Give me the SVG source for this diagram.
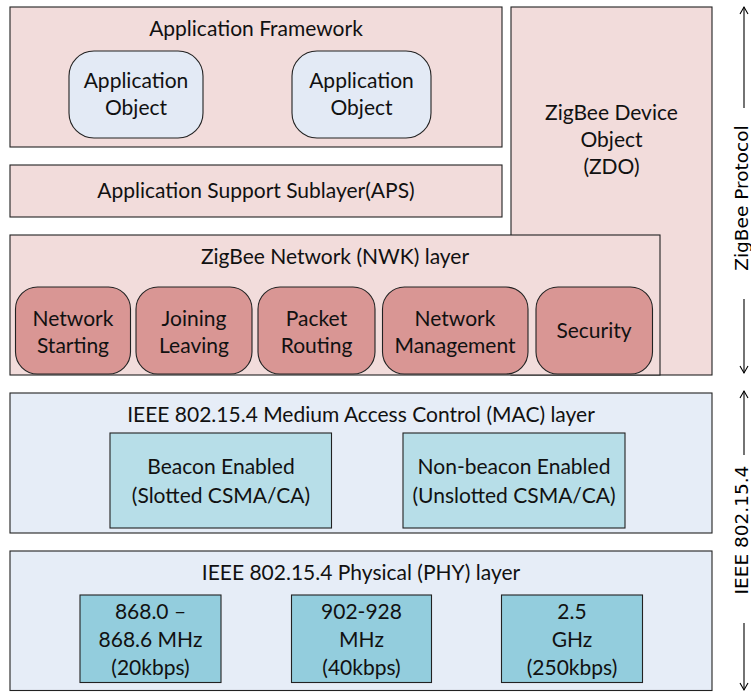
<svg xmlns="http://www.w3.org/2000/svg" width="751" height="692" viewBox="0 0 751 692">
<defs>
<marker id="arr" markerWidth="10" markerHeight="10" refX="8" refY="5" orient="auto" markerUnits="userSpaceOnUse">
<path d="M1,1 L8,5 L1,9" fill="none" stroke="#000" stroke-width="1.1"/>
</marker>
</defs>
<style>
.box{stroke:#222;stroke-width:1.1}
.pink{fill:#F2DCDB}
.obj{fill:#E3EAF5}
.nwk{fill:#D99694}
.blue{fill:#E6EDF7}
.mac{fill:#B7DEE8}
.phy{fill:#93CDDD}
text{font-family:Lato,"Liberation Sans",sans-serif;font-size:21px;fill:#111;text-anchor:middle}
.side{font-family:"DejaVu Sans",sans-serif;font-size:18.5px;fill:#000}
.conn line{stroke:#000;stroke-width:1.1}
</style>
<g id="app-framework">
<rect class="box pink" x="10" y="7" width="492" height="140"/>
<text x="256" y="36">Application Framework</text>
</g>
<g id="app-object-1">
<rect class="box obj" x="69" y="51" width="134" height="87" rx="25"/>
<text x="136" y="88">Application</text>
<text x="136" y="115">Object</text>
</g>
<g id="app-object-2">
<rect class="box obj" x="292" y="51" width="139" height="87" rx="25"/>
<text x="361.5" y="88">Application</text>
<text x="361.5" y="115">Object</text>
</g>
<g id="aps">
<rect class="box pink" x="10" y="165" width="492" height="52"/>
<text x="256" y="198">Application Support Sublayer(APS)</text>
</g>
<g id="zdo">
<rect class="box pink" x="511" y="7" width="201" height="368"/>
<text x="611.5" y="120">ZigBee Device</text>
<text x="611.5" y="147">Object</text>
<text x="611.5" y="174">(ZDO)</text>
</g>
<g id="nwk">
<rect class="box pink" x="10" y="235" width="650" height="140"/>
<text x="335" y="264">ZigBee Network (NWK) layer</text>
</g>
<g id="network-starting">
<rect class="box nwk" x="15.5" y="287" width="115" height="87" rx="22"/>
<text x="73" y="326">Network</text>
<text x="73" y="353">Starting</text>
</g>
<g id="joining-leaving">
<rect class="box nwk" x="136" y="287" width="116" height="87" rx="22"/>
<text x="194" y="326">Joining</text>
<text x="194" y="353">Leaving</text>
</g>
<g id="packet-routing">
<rect class="box nwk" x="258" y="287" width="117" height="87" rx="22"/>
<text x="316.5" y="326">Packet</text>
<text x="316.5" y="353">Routing</text>
</g>
<g id="network-management">
<rect class="box nwk" x="382.5" y="287" width="145.5" height="87" rx="22"/>
<text x="455" y="326">Network</text>
<text x="455" y="353">Management</text>
</g>
<g id="security">
<rect class="box nwk" x="536" y="287" width="116.5" height="87" rx="22"/>
<text x="594" y="338">Security</text>
</g>
<g id="mac">
<rect class="box blue" x="10" y="393" width="702" height="140"/>
<text x="361" y="422">IEEE 802.15.4 Medium Access Control (MAC) layer</text>
</g>
<g id="beacon-enabled">
<rect class="box mac" x="110" y="433" width="221.5" height="95"/>
<text x="221" y="474">Beacon Enabled</text>
<text x="221" y="503">(Slotted CSMA/CA)</text>
</g>
<g id="non-beacon-enabled">
<rect class="box mac" x="403" y="433" width="222" height="95"/>
<text x="514" y="474">Non-beacon Enabled</text>
<text x="514" y="503">(Unslotted CSMA/CA)</text>
</g>
<g id="phy">
<rect class="box blue" x="10" y="551" width="702" height="139.5"/>
<text x="361" y="580">IEEE 802.15.4 Physical (PHY) layer</text>
</g>
<g id="band-868">
<rect class="box phy" x="80" y="595" width="141" height="87.5"/>
<text x="150.5" y="619">868.0 –</text>
<text x="150.5" y="647">868.6 MHz</text>
<text x="150.5" y="675">(20kbps)</text>
</g>
<g id="band-902">
<rect class="box phy" x="291.5" y="595" width="140" height="87.5"/>
<text x="361.5" y="619">902-928</text>
<text x="361.5" y="647">MHz</text>
<text x="361.5" y="675">(40kbps)</text>
</g>
<g id="band-2-5">
<rect class="box phy" x="501.5" y="595" width="141" height="87.5"/>
<text x="572" y="619">2.5</text>
<text x="572" y="647">GHz</text>
<text x="572" y="675">(250kbps)</text>
</g>
<g id="connectors" class="conn">
<line x1="744" y1="108" x2="744" y2="7" marker-end="url(#arr)"/>
<line x1="744" y1="299" x2="744" y2="373" marker-end="url(#arr)"/>
<line x1="744" y1="455" x2="744" y2="391" marker-end="url(#arr)"/>
<line x1="744" y1="623" x2="744" y2="690" marker-end="url(#arr)"/>
</g>
<g id="side-labels">
<text class="side" x="748" y="198" transform="rotate(-90 748 198)">ZigBee Protocol</text>
<text class="side" x="748" y="530" transform="rotate(-90 748 530)">IEEE 802.15.4</text>
</g>
</svg>
